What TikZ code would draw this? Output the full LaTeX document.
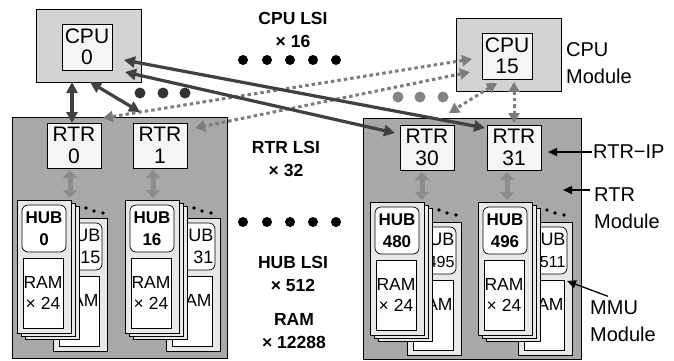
\documentclass[tikz,border=0pt]{standalone}
\usepackage{fontspec}
\setmainfont{Liberation Sans}
\usetikzlibrary{arrows.meta,calc}
\definecolor{modgray}{HTML}{A8A8A8}
\definecolor{cpugray}{HTML}{D3D3D3}
\definecolor{inbox}{HTML}{F5F5F5}
\definecolor{cardfill}{HTML}{E8E8E8}
\definecolor{darkln}{HTML}{404040}
\definecolor{dotln}{HTML}{7C7C7C}
\definecolor{hubarr}{HTML}{8C8C8C}
\definecolor{graydot}{HTML}{858585}
\definecolor{darkdot}{HTML}{333333}

\tikzset{
 base/.style={draw=black, line width=0.9pt, inner sep=0pt, outer sep=0pt, anchor=north west, align=center},
 module/.style={base, fill=modgray},
 cpumodule/.style={base, fill=cpugray, minimum width=105pt, minimum height=73pt},
 chip/.style={base, fill=inbox, font=\fontsize{21}{21.5}\selectfont},
 card/.style={base, line width=0.7pt, fill=cardfill, minimum width=54pt, minimum height=133pt},
 hubbox/.style={base, line width=0.7pt, fill=white, rounded corners=6pt, minimum width=44pt, minimum height=47pt},
 rambox/.style={base, line width=0.7pt, fill=white, minimum width=40pt, minimum height=70pt},
 hubbold/.style={font=\bfseries\fontsize{17}{21.5}\selectfont},
 hubback/.style={font=\fontsize{18}{21.5}\selectfont, text width=41pt, align=right},
 ramfront/.style={font=\fontsize{17.5}{21.5}\selectfont},
 ramback/.style={font=\fontsize{17.5}{21.5}\selectfont, text width=39pt, align=right},
 bus/.style={draw=darkln, line width=3.2pt, {Triangle[length=11pt,width=11pt]}-{Triangle[length=11pt,width=11pt]}},
 net/.style={draw=dotln, line width=3pt, dash pattern=on 3.5pt off 3pt, {Triangle[length=10pt,width=11pt]}-{Triangle[length=10pt,width=11pt]}},
 hublink/.style={draw=hubarr, line width=5pt, {Triangle[length=8pt,width=14pt]}-{Triangle[length=8pt,width=14pt]}},
 pointer/.style={draw=black, line width=1.3pt, -{Triangle[length=9pt,width=8pt]}},
 sidelabel/.style={anchor=west, align=left, inner sep=0pt, font=\fontsize{20}{27}\selectfont},
 midlabel/.style={align=center, inner sep=0pt, font=\bfseries\fontsize{17.5}{23}\selectfont},
}

% card: x, y, name, hub style, hub text, ram style, ram text
\newcommand{\hubcard}[7]{%
  \node[card] (#3) at (#1,#2) {};
  \node[hubbox,#4] (#3h) at ($(#3.north west)+(5,5)$) {#5};
  \node[rambox,#6] (#3r) at ($(#3.north west)+(6,58)$) {#7};
}
% stack: front x, front y, back x, back y, prefix, front number, back number
\newcommand{\hubstack}[7]{%
  \hubcard{#3}{#4}{#5b}{hubback}{HUB\\#7}{ramback}{RAM\\\mbox{}}
  \hubcard{#1+8}{#2+6}{#5c}{}{}{}{}
  \hubcard{#1+4}{#2+3}{#5d}{}{}{}{}
  \hubcard{#1}{#2}{#5f}{hubbold}{HUB\\#6}{ramfront}{RAM\\× 24}
  \fill ($(#5f.north west)+(69,8)$) circle (1.8pt);
  \fill ($(#5f.north west)+(77,11)$) circle (1.8pt);
  \fill ($(#5f.north west)+(86,13)$) circle (1.8pt);
}

\begin{document}
\begin{tikzpicture}[x=1pt,y=-1pt]
\useasboundingbox (0,0) rectangle (674,360);

% CPU modules
\node[cpumodule] (cpu0m) at (36,9) {};
\node[chip, minimum width=50pt, minimum height=46pt] (cpu0) at (62,24) {CPU\\0};
\node[cpumodule] (cpu15m) at (456,18) {};
\node[chip, minimum width=50pt, minimum height=46pt] (cpu15) at (482,33) {CPU\\15};

% RTR modules
\node[module, minimum width=215pt, minimum height=241pt] (rtrmL) at (12,117) {};
\node[module, minimum width=218pt, minimum height=241pt] (rtrmR) at (363,118) {};
\node[chip, minimum width=54pt, minimum height=45pt] (rtr0) at (47,123) {RTR\\0};
\node[chip, minimum width=54pt, minimum height=45pt] (rtr1) at (133,123) {RTR\\1};
\node[chip, minimum width=54pt, minimum height=45pt] (rtr30) at (400,125) {RTR\\30};
\node[chip, minimum width=54pt, minimum height=45pt] (rtr31) at (487,125) {RTR\\31};

% HUB stacks
\hubstack{17}{200}{53}{218}{La}{0}{15}
\hubstack{125}{200}{166}{218}{Lb}{16}{31}
\hubstack{370}{202}{407}{222}{Ra}{480}{{\fontsize{16}{21.5}\selectfont 495}}
\hubstack{478}{202}{518}{222}{Rb}{496}{{\fontsize{16}{21.5}\selectfont 511}}

% RTR to HUB links
\draw[hublink] ($(rtr0.south west)+(23,2)$) -- ($(Laf.north west)+(53,-2)$);
\draw[hublink] ($(rtr1.south west)+(20,2)$) -- ($(Lbf.north west)+(28,-2)$);
\draw[hublink] ($(rtr30.south west)+(22,2)$) -- ($(Raf.north west)+(52,-2)$);
\draw[hublink] ($(rtr31.south west)+(20,2)$) -- ($(Rbf.north west)+(29,-2)$);

% ellipsis dots
\foreach \x in {243,267,290,313,336} {
  \fill[black] (\x,60) circle (5pt);
  \fill[black] (\x,222) circle (5pt);
}
\foreach \x in {140,163,185} { \fill[darkdot] (\x,93) circle (5.5pt); }
\foreach \x in {398,420,443} { \fill[graydot] (\x,97) circle (5.5pt); }

% dotted network links from CPU 15
\draw[net] ($(cpu15.west)+(-10,3)$) -- ($(rtr0.north east)+(2,-5)$);
\draw[net] ($(cpu15.west)+(-12,16)$) -- ($(rtr1.north east)+(8,5)$);
\draw[net] ($(cpu15.south west)+(15,4)$) -- ($(rtr30.north)+(22,-12)$);
\draw[net] ($(cpu15.south west)+(32,3)$) -- ($(rtr31.north west)+(27,-2)$);

% solid links from CPU 0
\draw[bus] ($(cpu0m.south west)+(36,0)$) -- ($(rtr0.north west)+(25,0)$);
\draw[bus] ($(cpu0m.south west)+(54,0)$) -- ($(rtr1.north west)+(7,-11)$);
\draw[bus] ($(cpu0.east)+(12,13)$) -- ($(rtr31.north west)+(-2,3)$);
\draw[bus] ($(cpu0.east)+(13,25)$) -- ($(rtr30.north west)+(-5,8)$);

% middle labels
\node[midlabel] (lcpu) at (293,30) {CPU LSI\\× 16};
\node[midlabel] (lrtr) at (286,158.5) {RTR LSI\\× 32};
\node[midlabel] (lhub) at (293,274) {HUB LSI\\× 512};
\node[midlabel] (lram) at (294,331.5) {RAM\\× 12288};

% side labels
\node[sidelabel] (lblcpu) at (566,63) {CPU\\Module};
\node[sidelabel] (lblip) at (593,152) {RTR−IP};
\node[sidelabel] (lblrtr) at (594,208) {RTR\\Module};
\node[sidelabel] (lblmmu) at (590,321) {MMU\\Module};

\coordinate (tipip) at (548,152);
\coordinate (tiprtr) at (563,190);
\coordinate (tipmmu) at (567,281);
\draw[pointer] ($(lblip.west)+(-1,0)$) -- (tipip);
\draw[pointer] ($(lblrtr.west |- tiprtr)+(-4,0)$) -- (tiprtr);
\draw[pointer] ($(lblmmu.north west)+(18,-4)$) -- (tipmmu);
\end{tikzpicture}
\end{document}
